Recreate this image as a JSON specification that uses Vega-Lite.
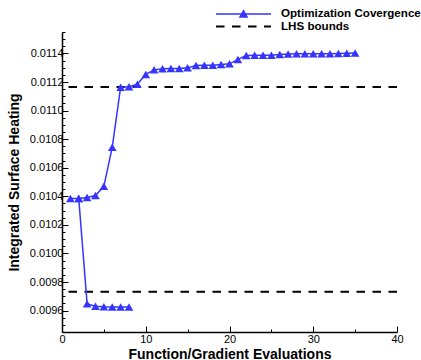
{
  "$schema": "https://vega.github.io/schema/vega-lite/v6.json",
  "width": 335,
  "height": 300,
  "autosize": {"type": "none"},
  "padding": {"left": 62, "top": 32, "right": 24, "bottom": 28},
  "background": "white",
  "config": {
    "view": {"stroke": null},
    "font": "Liberation Sans",
    "axisX": {
      "values": [0, 2, 4, 6, 8, 10, 12, 14, 16, 18, 20, 22, 24, 26, 28, 30, 32, 34, 36, 38, 40],
      "labelExpr": "datum.value % 10 === 0 ? format(datum.value, 'd') : ''",
      "tickSize": {"condition": {"test": "datum.value % 10 === 0", "value": -6}, "value": -3},
      "tickColor": "black",
      "tickWidth": 1,
      "domainColor": "black",
      "domainWidth": 1.5,
      "grid": false,
      "labelFont": "Liberation Sans",
      "labelFontSize": 11,
      "labelColor": "black",
      "labelPadding": 7,
      "labelOverlap": false,
      "labelFlush": false,
      "titleFont": "Liberation Sans",
      "titleFontSize": 14,
      "titleFontWeight": "bold",
      "titleColor": "black",
      "titlePadding": 0
    }
  },
  "datasets": {
    "conv": [
      {"x": 1, "y": 0.010384, "branch": "a", "name": "Optimization Covergence"},
      {"x": 2, "y": 0.010384, "branch": "a", "name": "Optimization Covergence"},
      {"x": 3, "y": 0.010391, "branch": "a", "name": "Optimization Covergence"},
      {"x": 4, "y": 0.010405, "branch": "a", "name": "Optimization Covergence"},
      {"x": 5, "y": 0.01047, "branch": "a", "name": "Optimization Covergence"},
      {"x": 6, "y": 0.010744, "branch": "a", "name": "Optimization Covergence"},
      {"x": 7, "y": 0.011164, "branch": "a", "name": "Optimization Covergence"},
      {"x": 8, "y": 0.011167, "branch": "a", "name": "Optimization Covergence"},
      {"x": 9, "y": 0.011185, "branch": "a", "name": "Optimization Covergence"},
      {"x": 10, "y": 0.011253, "branch": "a", "name": "Optimization Covergence"},
      {"x": 11, "y": 0.011285, "branch": "a", "name": "Optimization Covergence"},
      {"x": 12, "y": 0.011292, "branch": "a", "name": "Optimization Covergence"},
      {"x": 13, "y": 0.011295, "branch": "a", "name": "Optimization Covergence"},
      {"x": 14, "y": 0.011295, "branch": "a", "name": "Optimization Covergence"},
      {"x": 15, "y": 0.011299, "branch": "a", "name": "Optimization Covergence"},
      {"x": 16, "y": 0.011316, "branch": "a", "name": "Optimization Covergence"},
      {"x": 17, "y": 0.011318, "branch": "a", "name": "Optimization Covergence"},
      {"x": 18, "y": 0.011318, "branch": "a", "name": "Optimization Covergence"},
      {"x": 19, "y": 0.011322, "branch": "a", "name": "Optimization Covergence"},
      {"x": 20, "y": 0.011327, "branch": "a", "name": "Optimization Covergence"},
      {"x": 21, "y": 0.011358, "branch": "a", "name": "Optimization Covergence"},
      {"x": 22, "y": 0.011386, "branch": "a", "name": "Optimization Covergence"},
      {"x": 23, "y": 0.011388, "branch": "a", "name": "Optimization Covergence"},
      {"x": 24, "y": 0.011388, "branch": "a", "name": "Optimization Covergence"},
      {"x": 25, "y": 0.011388, "branch": "a", "name": "Optimization Covergence"},
      {"x": 26, "y": 0.011392, "branch": "a", "name": "Optimization Covergence"},
      {"x": 27, "y": 0.011396, "branch": "a", "name": "Optimization Covergence"},
      {"x": 28, "y": 0.011397, "branch": "a", "name": "Optimization Covergence"},
      {"x": 29, "y": 0.011397, "branch": "a", "name": "Optimization Covergence"},
      {"x": 30, "y": 0.011398, "branch": "a", "name": "Optimization Covergence"},
      {"x": 31, "y": 0.011398, "branch": "a", "name": "Optimization Covergence"},
      {"x": 32, "y": 0.011398, "branch": "a", "name": "Optimization Covergence"},
      {"x": 33, "y": 0.011399, "branch": "a", "name": "Optimization Covergence"},
      {"x": 34, "y": 0.011401, "branch": "a", "name": "Optimization Covergence"},
      {"x": 35, "y": 0.011403, "branch": "a", "name": "Optimization Covergence"},
      {"x": 2, "y": 0.010384, "branch": "b", "name": "Optimization Covergence"},
      {"x": 3, "y": 0.009647, "branch": "b", "name": "Optimization Covergence"},
      {"x": 4, "y": 0.009631, "branch": "b", "name": "Optimization Covergence"},
      {"x": 5, "y": 0.009626, "branch": "b", "name": "Optimization Covergence"},
      {"x": 6, "y": 0.009625, "branch": "b", "name": "Optimization Covergence"},
      {"x": 7, "y": 0.009625, "branch": "b", "name": "Optimization Covergence"},
      {"x": 8, "y": 0.009625, "branch": "b", "name": "Optimization Covergence"}
    ],
    "bounds": [
      {"y": 0.011165, "name": "LHS bounds"},
      {"y": 0.009732, "name": "LHS bounds"}
    ]
  },
  "encoding": {
    "y": {
      "field": "y",
      "type": "quantitative",
      "title": "Integrated Surface Heating",
      "scale": {"domain": [0.00945, 0.01155], "zero": false, "nice": false},
      "axis": {
        "values": [0.00945, 0.0095, 0.00955, 0.0096, 0.00965, 0.0097, 0.00975, 0.0098, 0.00985, 0.0099, 0.00995, 0.01, 0.01005, 0.0101, 0.01015, 0.0102, 0.01025, 0.0103, 0.01035, 0.0104, 0.01045, 0.0105, 0.01055, 0.0106, 0.01065, 0.0107, 0.01075, 0.0108, 0.01085, 0.0109, 0.01095, 0.011, 0.01105, 0.0111, 0.01115, 0.0112, 0.01125, 0.0113, 0.01135, 0.0114, 0.01145, 0.0115, 0.01155],
        "labelExpr": "abs(datum.value*5000 - round(datum.value*5000)) < 0.001 ? format(datum.value, '.4f') : ''",
        "tickSize": {"condition": {"test": "abs(datum.value*5000 - round(datum.value*5000)) < 0.001", "value": -6}, "value": -3},
        "tickColor": "black",
        "tickWidth": 1,
        "domainColor": "black",
        "domainWidth": 1.5,
        "grid": false,
        "labelFont": "Liberation Sans",
        "labelFontSize": 11,
        "labelColor": "black",
        "labelPadding": 5,
        "labelOverlap": false,
        "titleFont": "Liberation Sans",
        "titleFontSize": 14,
        "titleFontWeight": "bold",
        "titleColor": "black",
        "titlePadding": 8
      }
    }
  },
  "layer": [
    {
      "data": {"name": "bounds"},
      "mark": {"type": "rule", "color": "black", "strokeWidth": 2},
      "encoding": {
        "strokeDash": {
          "field": "name",
          "type": "nominal",
          "scale": {"domain": ["LHS bounds"], "range": [[8.5, 7.5]]},
          "legend": {
            "orient": "none",
            "legendX": 153,
            "legendY": -34,
            "title": null,
            "symbolType": "M-1,0H1",
            "symbolSize": 3025,
            "symbolStrokeWidth": 2,
            "symbolStrokeColor": "black",
            "labelFont": "Liberation Sans",
            "labelFontSize": 11.6,
            "labelFontWeight": "bold",
            "labelColor": "black",
            "labelOffset": 9
          }
        }
      }
    },
    {
      "data": {"name": "conv"},
      "mark": {"type": "line", "strokeWidth": 1.5},
      "encoding": {
        "x": {
          "field": "x",
          "type": "quantitative",
          "title": "Function/Gradient Evaluations",
          "scale": {"domain": [0, 40], "nice": false}
        },
        "detail": {"field": "branch", "type": "nominal"},
        "color": {
          "field": "name",
          "type": "nominal",
          "scale": {"domain": ["Optimization Covergence"], "range": ["#3535ff"]},
          "legend": {
            "orient": "none",
            "legendX": 153,
            "legendY": -46.5,
            "title": null,
            "symbolType": "M-1,0H1M-0.13,0.11L0,-0.12L0.13,0.11Z",
            "symbolSize": 3025,
            "symbolStrokeWidth": 1.5,
            "symbolFillColor": "#3535ff",
            "labelFont": "Liberation Sans",
            "labelFontSize": 11.6,
            "labelFontWeight": "bold",
            "labelColor": "black",
            "labelOffset": 9,
            "encode": {"symbols": {"update": {"fill": {"value": "#3535ff"}}}}
          }
        }
      }
    },
    {
      "data": {"name": "conv"},
      "mark": {"type": "point", "shape": "triangle-up", "filled": true, "size": 75, "color": "#3535ff", "opacity": 1},
      "encoding": {
        "x": {
          "field": "x",
          "type": "quantitative",
          "title": "Function/Gradient Evaluations",
          "scale": {"domain": [0, 40], "nice": false}
        }
      }
    }
  ]
}
